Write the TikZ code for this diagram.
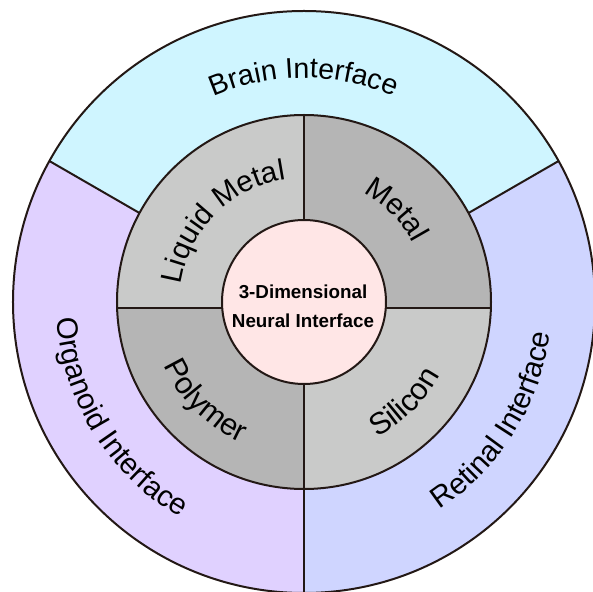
\documentclass[tikz,border=0pt]{standalone}
\usepackage{fontspec}
\setmainfont{Liberation Sans}
\usetikzlibrary{decorations.text}
\definecolor{edgec}{HTML}{231815}
\definecolor{brainc}{HTML}{CFF5FF}
\definecolor{organoidc}{HTML}{E0D1FF}
\definecolor{retinalc}{HTML}{CFD5FF}
\definecolor{lightg}{HTML}{C9CAC9}
\definecolor{darkg}{HTML}{B5B5B5}
\definecolor{pinkc}{HTML}{FFE6E6}
\newcommand\lblfont{\fontsize{28.5}{28}\selectfont}
\newcommand\lblfontb{\fontsize{29.5}{28}\selectfont}
\newcommand\lblfontc{\fontsize{30.5}{28}\selectfont}
\tikzset{
  edgeline/.style={draw=edgec, line width=2pt},
  centerlabel/.style={anchor=base, inner sep=0pt, font=\fontsize{18.8}{20}\selectfont\bfseries, text=black}
}
\begin{document}
\begin{tikzpicture}[x=1pt,y=1pt]
\useasboundingbox (-304,-289) rectangle (289,302);
\clip (-304,-289) rectangle (289,302);
\coordinate (C) at (0,0);
\coordinate (O) at (0,-6);
% outer ring sectors
\begin{scope}
  \clip (C) circle[radius=291pt];
  \fill[organoidc] (-300,-300) rectangle (300,300);
  \fill[brainc] (O) -- ([shift={(30:800pt)}]O) -- (700,700) -- (-700,700) -- ([shift={(150:800pt)}]O) -- cycle;
  \fill[retinalc] (O) -- (0,-700) -- (700,-700) -- ([shift={(30:800pt)}]O) -- cycle;
\end{scope}
% middle ring quadrants
\begin{scope}
  \clip (C) circle[radius=187pt];
  \fill[lightg] (-190,-190) rectangle (190,190);
  \fill[darkg] (O) rectangle (190,190);
  \fill[darkg] (O) rectangle (-190,-190);
\end{scope}
\fill[pinkc] (C) circle[radius=82pt];
% divider coordinates
\coordinate (L1) at ([shift={(150:189.93pt)}]O);
\coordinate (L2) at ([shift={(150:293.95pt)}]O);
\coordinate (R1) at ([shift={(30:189.93pt)}]O);
\coordinate (R2) at ([shift={(30:293.95pt)}]O);
\coordinate (T1) at (0,187);
\coordinate (T2) at (0,82);
\coordinate (B1) at (0,-82);
\coordinate (B2) at (0,-291);
\coordinate (H1) at (-186.9,-6);
\coordinate (H2) at (-81.8,-6);
\coordinate (H3) at (81.8,-6);
\coordinate (H4) at (186.9,-6);
% strokes
\draw[edgeline] (C) circle[radius=291pt];
\draw[edgeline] (C) circle[radius=187pt];
\draw[edgeline] (C) circle[radius=82pt];
\draw[edgeline] (L1) -- (L2);
\draw[edgeline] (R1) -- (R2);
\draw[edgeline] (T1) -- (T2);
\draw[edgeline] (B1) -- (B2);
\draw[edgeline] (H1) -- (H2);
\draw[edgeline] (H3) -- (H4);
% outer labels
\path[decorate, decoration={text along path, text align=center, text={|\lblfont|Brain Interface}}]
  (150:224pt) arc[start angle=150, end angle=30, radius=224pt];
\path[decorate, decoration={text along path, text align=center, text={|\lblfontb|Organoid Interface}}]
  (152:248pt) arc[start angle=152, end angle=272, radius=248pt];
\path[decorate, decoration={text along path, text align=center, text={|\lblfontb|Retinal Interface}}]
  (268:248pt) arc[start angle=268, end angle=388, radius=248pt];
% middle labels
\path[decorate, decoration={text along path, text align=center, text={|\lblfontb|Liquid Metal}}]
  (195:124pt) arc[start angle=195, end angle=75, radius=124pt];
\path[decorate, decoration={text along path, text align=center, text={|\lblfontb|Metal}}]
  (105:124pt) arc[start angle=105, end angle=-15, radius=124pt];
\path[decorate, decoration={text along path, text align=center, text={|\lblfontc|Polymer}}]
  (165:154pt) arc[start angle=165, end angle=285, radius=154pt];
\path[decorate, decoration={text along path, text align=center, text={|\lblfontc|Silicon}}]
  (255:154pt) arc[start angle=255, end angle=375, radius=154pt];
% center label
\node[centerlabel] (c1) at (-1,4) {3-Dimensional};
\node[centerlabel] (c2) at (-1,-25) {Neural Interface};
\end{tikzpicture}
\end{document}
